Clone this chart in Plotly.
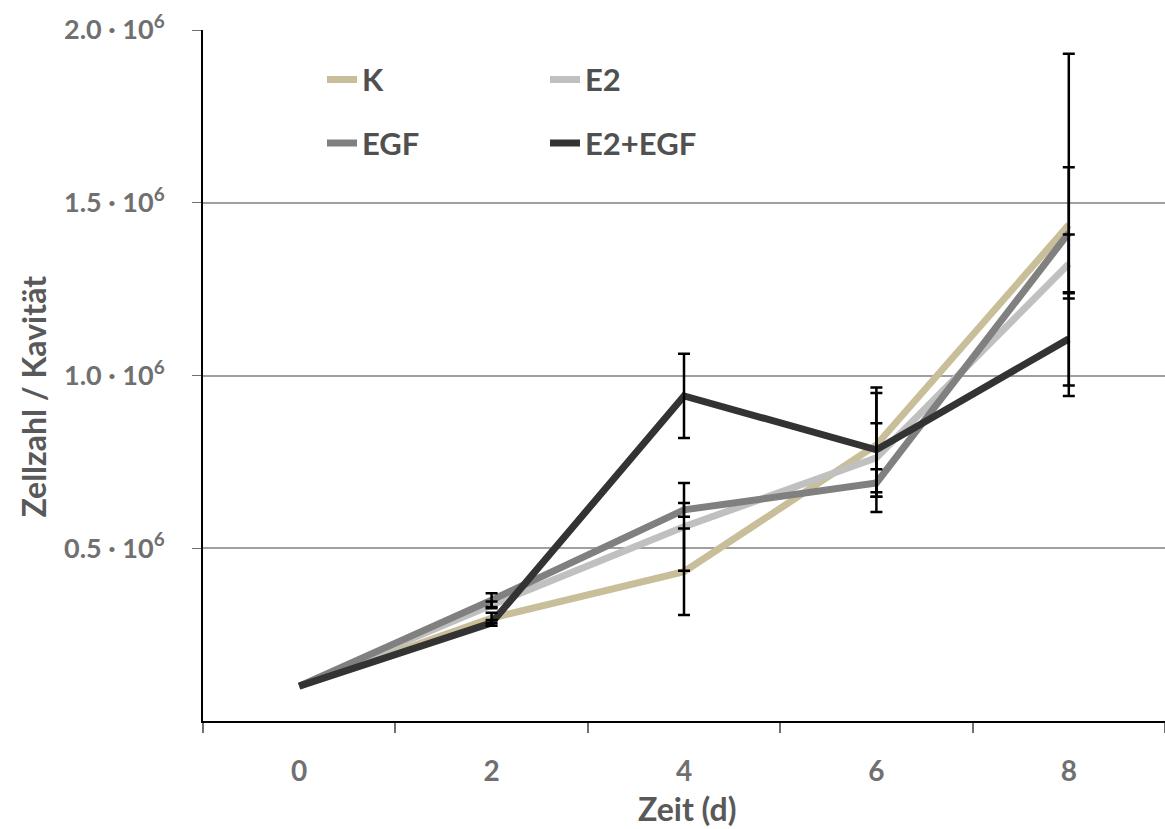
import plotly.graph_objects as go

days = [0, 2, 4, 6, 8]
series_names = ["K", "E2", "EGF", "E2+EGF"]
k_vals = [0.101e6, 0.298e6, 0.432e6, 0.799e6, 1.436e6]
e2_vals = [0.101e6, 0.336e6, 0.562e6, 0.762e6, 1.323e6]
egf_vals = [0.101e6, 0.350e6, 0.611e6, 0.689e6, 1.413e6]
e2egf_vals = [0.101e6, 0.284e6, 0.941e6, 0.785e6, 1.106e6]

k_err = [None, 0.015e6, 0.125e6, 0.15e6, 0.495e6]
e2_err = [None, 0.01e6, 0.127e6, 0.10e6, 0.085e6]
egf_err = [None, 0.02e6, 0.02e6, 0.04e6, 0.19e6]
e2egf_err = [None, 0.008e6, 0.122e6, 0.18e6, 0.135e6]

y_tickvals = [0.5e6, 1.0e6, 1.5e6, 2.0e6]
y_ticktext = ["0.5 · 10<sup>6</sup>", "1.0 · 10<sup>6</sup>", "1.5 · 10<sup>6</sup>", "2.0 · 10<sup>6</sup>"]

colors = ["#c8bf9a", "#c0c0c0", "#808080", "#333333"]
values = [k_vals, e2_vals, egf_vals, e2egf_vals]
errors = [k_err, e2_err, egf_err, e2egf_err]
legends = ["legend", "legend", "legend2", "legend2"]

FONT = "Lato"
fig = go.Figure()
for name, vals, col, lg in zip(series_names, values, colors, legends):
    fig.add_trace(go.Scatter(
        x=days, y=vals, name=name, mode="lines",
        line=dict(color=col, width=7), legend=lg,
    ))
for name, vals, err in zip(series_names, values, errors):
    fig.add_trace(go.Scatter(
        x=days[1:], y=vals[1:], mode="markers", showlegend=False,
        marker=dict(size=1, opacity=0),
        error_y=dict(type="data", array=err[1:], visible=True, color="black", thickness=2.5, width=6),
        hoverinfo="skip",
    ))

legend_font = dict(family=FONT, size=31, color="#505050", weight="bold")
fig.update_layout(
    width=1165, height=829,
    margin=dict(l=203, r=0, t=30, b=108),
    plot_bgcolor="white", paper_bgcolor="white",
    font=dict(family=FONT),
    xaxis=dict(
        range=[-1, 9], tickvals=days, ticktext=[str(d) for d in days],
        ticks="", showgrid=False, zeroline=False,
        showline=True, linecolor="black", linewidth=2,
        tickfont=dict(family=FONT, size=28, color="#707070", weight="bold"),
        ticklabelstandoff=24,
        minor=dict(tick0=-1, dtick=2, ticks="outside", ticklen=10, tickcolor="#707070", tickwidth=1.5, showgrid=False),
    ),
    yaxis=dict(
        range=[0, 2.0e6], tickvals=y_tickvals, ticktext=y_ticktext,
        ticks="outside", ticklen=9, tickcolor="#707070",
        showgrid=True, gridcolor="#a0a0a0", gridwidth=1.5, zeroline=False,
        showline=True, linecolor="black", linewidth=2,
        tickfont=dict(family=FONT, size=27, color="#707070", weight="bold"),
        ticklabelstandoff=22,
    ),
    legend=dict(orientation="h", x=0.1237, xanchor="left", y=0.928, yanchor="middle",
                entrywidth=178, font=legend_font,
                bgcolor="rgba(0,0,0,0)", traceorder="normal"),
    legend2=dict(orientation="h", x=0.1237, xanchor="left", y=0.836, yanchor="middle",
                 entrywidth=178, font=legend_font,
                 bgcolor="rgba(0,0,0,0)", traceorder="normal"),
    annotations=[
        dict(text="Zeit (d)", xref="paper", yref="paper", x=0.503, y=-0.127, xanchor="center", yanchor="middle",
             showarrow=False, font=dict(family=FONT, size=32, color="#595959", weight="bold")),
        dict(text="Zellzahl / Kavität", xref="paper", yref="paper", x=-0.176, y=0.469, xanchor="center", yanchor="middle",
             textangle=-90, showarrow=False, font=dict(family=FONT, size=32, color="#595959", weight="bold")),
    ],
)

fig.write_html("out.html", config={"displayModeBar": False},
               post_script="document.body.style.margin='0px';document.body.style.overflow='hidden';")
